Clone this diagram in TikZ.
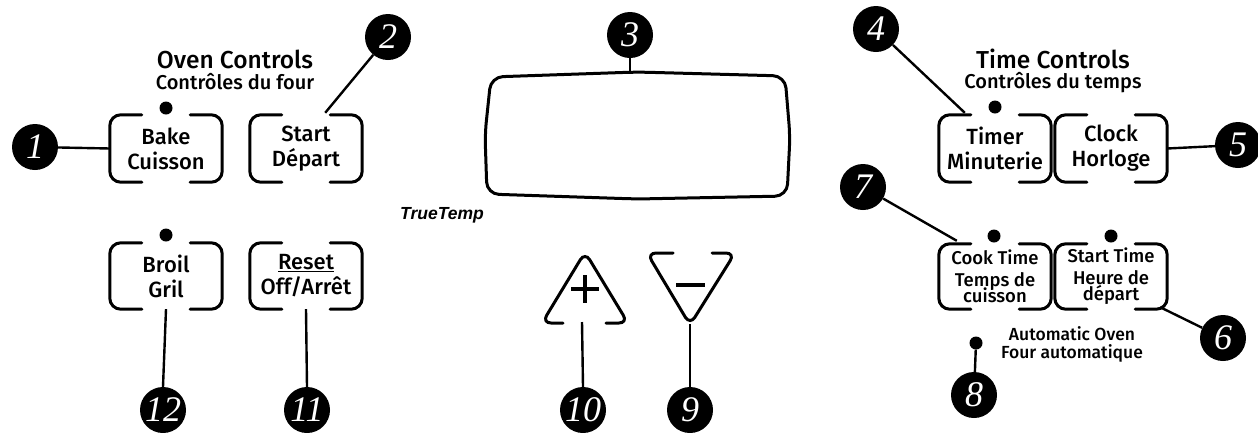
\documentclass[tikz,border=0pt]{standalone}
\usepackage{fontspec}
\newfontfamily\osans{Fira Sans Medium}
\newfontfamily\arialf{Liberation Sans}
\newfontfamily\numf{Liberation Serif}
\tikzset{
 num/.style={circle, fill=black, minimum size=46pt, inner sep=0pt, text=white, font=\numf\itshape\fontsize{36}{36}\selectfont},
 btn/.style={minimum width=112pt, minimum height=67pt, inner sep=0pt, align=center, font=\osans\fontsize{22}{25}\selectfont},
 sbtn/.style={btn, minimum height=65pt, font=\osans\fontsize{18.5}{21}\selectfont},
 frame/.style={line width=3pt, rounded corners=11pt, line cap=round},
 conn/.style={line width=2.4pt},
 led/.style={circle, fill=black, minimum size=13pt, inner sep=0pt},
 head/.style={anchor=base, inner sep=0pt, font=\osans\fontsize{24.5}{26}\selectfont},
 subhead/.style={anchor=base, inner sep=0pt, font=\osans\fontsize{20}{22}\selectfont},
 note/.style={anchor=base, inner sep=0pt, font=\osans\fontsize{17.5}{20}\selectfont},
}
\newcommand\btnframe[1]{%
 \draw[frame] ([xshift=32pt]#1.north west) -- (#1.north west) -- (#1.south west) -- ([xshift=32pt]#1.south west);
 \draw[frame] ([xshift=-32pt]#1.north east) -- (#1.north east) -- (#1.south east) -- ([xshift=-32pt]#1.south east);}
\begin{document}
\begin{tikzpicture}[x=1pt,y=-1pt]
\useasboundingbox (0,0) rectangle (1258,432);
% headings
\node[head] (ovenh) at (235,68) {Oven Controls};
\node[subhead] (ovens) at (235,89) {Contrôles du four};
\node[head] (timeh) at (1053,68) {Time Controls};
\node[subhead] (times) at (1053,88.5) {Contrôles du temps};
% buttons
\node[btn] (bake) at (166,148.5) {Bake\\Cuisson};
\node[btn] (start) at (306,148.5) {Start\\Départ};
\node[btn, minimum height=66pt] (broil) at (166,276) {Broil\\Gril};
\node[btn, minimum height=66pt] (reset) at (306,276) {\underline{Reset}\\Off/Arrêt};
\node[btn] (timer) at (995,148.5) {Timer\\Minuterie};
\node[btn] (clock) at (1111,148.5) {Clock\\Horloge};
\node[sbtn] (cook) at (995,276.5) {Cook Time\\[1pt]Temps de\\[-5pt]cuisson};
\node[sbtn] (stime) at (1111,276.5) {Start Time\\[1pt]Heure de\\[-5pt]départ};
\foreach \b in {bake,start,broil,reset,timer,clock,cook,stime} {\btnframe{\b}}
% leds
\node[led] (ledbake) at (166,108) {};
\node[led] (ledbroil) at (166,235) {};
\node[led] (ledtimer) at (995,107) {};
\node[led] (ledcook) at (994,236) {};
\node[led] (ledstime) at (1111,236) {};
\node[led] (led8) at (976,343) {};
% display
\draw[line width=3pt, rounded corners=12pt] (637,72) -- (785,76) -- (790,136) -- (787,196) -- (637,199) -- (487,194) -- (485,134) -- (491,77) -- cycle;
\coordinate (disptop) at (630,74);
\node[anchor=base, inner sep=0pt, font=\arialf\bfseries\itshape\fontsize{17.5}{20}\selectfont] (tt) at (442,219) {TrueTemp};
% plus / minus
\draw[line width=3pt, rounded corners=9pt, line cap=round] (563,323) -- (542,323) -- (585,252) -- (628,323) -- (606,323);
\draw[line width=3.5pt] (571,289) -- (599,289) (585,275) -- (585,303);
\coordinate (plusbase) at (582,322);
\draw[line width=3pt, rounded corners=9pt, line cap=round] (673,253) -- (647,253) -- (690,325) -- (735,253) -- (712,253);
\draw[line width=3.5pt] (676,285) -- (705,285);
\coordinate (minusapex) at (690,324);
% notes
\node[note] (auto1) at (1072,340) {Automatic Oven};
\node[note] (auto2) at (1072,358) {Four automatique};
% numbered callouts
\node[num] (n1) at (35,147) {1};
\node[num] (n2) at (388,37) {2};
\node[num] (n3) at (630,35) {3};
\node[num] (n4) at (876,29) {4};
\node[num] (n5) at (1238,145) {5};
\node[num] (n6) at (1223,338) {6};
\node[num] (n7) at (863,187) {7};
\node[num] (n8) at (974,395) {8};
\node[num] (n9) at (690,410) {9};
\node[num] (n10) at (583,410) {10};
\node[num] (n11) at (307,410) {11};
\node[num] (n12) at (163,410) {12};
% connectors
\coordinate (c2) at ([xshift=-37pt,yshift=2pt]start.north east);
\coordinate (c4) at ([xshift=26pt,yshift=2pt]timer.north west);
\coordinate (c7) at ([xshift=18pt,yshift=3pt]cook.north west);
\coordinate (c6) at ([xshift=-7pt,yshift=2pt]stime.south east);
\draw[conn] (n1) -- (bake.west);
\draw[conn] (n2) -- (c2);
\draw[conn] (n3) -- (disptop);
\draw[conn] (n4) -- (c4);
\draw[conn] (clock.east) -- (n5);
\draw[conn] (c6) -- (n6);
\draw[conn] (n7) -- (c7);
\draw[conn] (led8) -- (n8);
\draw[conn] (minusapex) -- (n9.north);
\draw[conn] (plusbase) -- (n10.north);
\draw[conn] (reset.south) -- (n11.north);
\draw[conn] (broil.south) -- (n12.north);
\end{tikzpicture}
\end{document}
